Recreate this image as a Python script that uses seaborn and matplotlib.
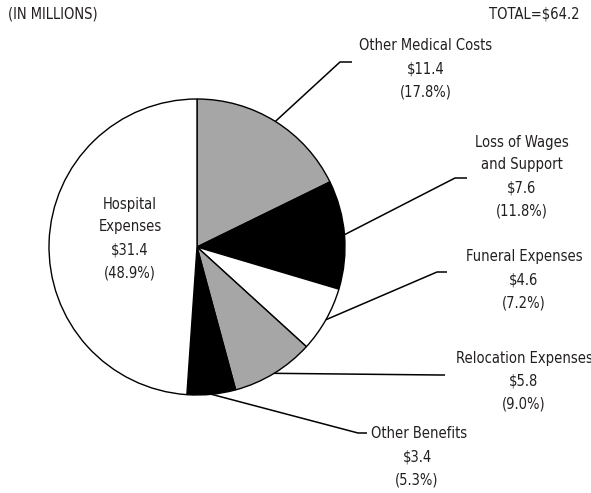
import numpy as np
import matplotlib
matplotlib.use("Agg")
import matplotlib.pyplot as plt
import seaborn as sns

categories = ["Other Medical Costs", "Loss of Wages\nand Support", "Funeral Expenses",
              "Relocation Expenses", "Other Benefits", "Hospital\nExpenses"]
values = [11.4, 7.6, 4.6, 5.8, 3.4, 31.4]
percents = [17.8, 11.8, 7.2, 9.0, 5.3, 48.9]
colors = ["#a6a6a6", "#000000", "#ffffff", "#a6a6a6", "#000000", "#ffffff"]

sns.set_theme(style="white")
plt.rcParams["font.family"] = ["DejaVu Sans"]
plt.rcParams["font.stretch"] = "condensed"

W, H = 591, 493
fig = plt.figure(figsize=(W / 100, H / 100), dpi=100)
ax = fig.add_axes([0, 0, 1, 1])

cx, cy, r = 197, H - 247, 148
wedges, _ = ax.pie(values, colors=colors, startangle=90, counterclock=False,
                   center=(cx, cy), radius=r, frame=True,
                   wedgeprops=dict(edgecolor="black", linewidth=1.0))
ax.set_xlim(0, W)
ax.set_ylim(0, H)
ax.set_aspect("equal")
ax.axis("off")

tc = "#231f20"
fs = 10.5
kw = dict(fontsize=fs, color=tc, fontstretch="condensed")

# label layout (image coords, y down): elbow, end, text center x, first line y
layout = [
    ((340, 62), (352, 62), 426, 46),
    ((455, 178), (467, 178), 522, 142),
    ((437, 272), (447, 272), 524, 257),
    ((440, 375), (445, 375), 524, 358),
    ((358, 433), (367, 433), 417, 434),
]

for i, (elb, end, tx, ty) in enumerate(layout):
    w = wedges[i]
    ang = np.deg2rad((w.theta1 + w.theta2) / 2)
    px, py = cx + r * np.cos(ang), cy + r * np.sin(ang)
    ax.plot([px, elb[0], end[0]], [py, H - elb[1], H - end[1]], color="black", lw=1.1,
            solid_capstyle="butt")
    lines = categories[i].split("\n") + [f"${values[i]:.1f}", f"({percents[i]:.1f}%)"]
    for k, s in enumerate(lines):
        if i == 4 and k == 0:
            ax.text(371, H - (ty + 23 * k), s, ha="left", va="center", **kw)
        else:
            ax.text(tx, H - (ty + 23 * k), s, ha="center", va="center", **kw)

# hospital label inside
hl = categories[5].split("\n") + [f"${values[5]:.1f}", f"({percents[5]:.1f}%)"]
for k, s in enumerate(hl):
    ax.text(130, H - (204 + 23 * k), s, ha="center", va="center", **kw)

ax.text(8, H - 14, "(IN MILLIONS)", ha="left", va="center", **kw)
ax.text(580, H - 14, "TOTAL=$64.2", ha="right", va="center", **kw)

fig.savefig("out.png", dpi=100)
